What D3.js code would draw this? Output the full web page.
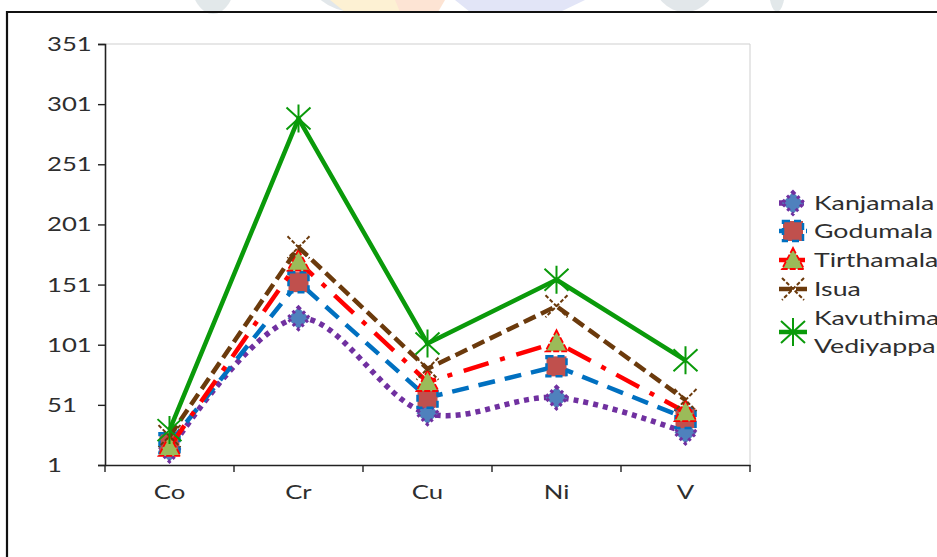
<!DOCTYPE html>
<html>
<head>
<meta charset="utf-8">
<script src="https://cdn.jsdelivr.net/npm/d3@7"></script>
<style>
  html, body { margin: 0; padding: 0; background: #fff; }
  svg { display: block; }
  text { font-family: Lato, "Open Sans", sans-serif; fill: #2e2e2e; }
</style>
</head>
<body>
<script>
// Element concentrations by locality
const categories = ["Co", "Cr", "Cu", "Ni", "V"];
const kanjamala    = [13, 123, 44, 57, 28];
const godumala     = [19, 153, 57, 83, 40];
const tirthamala   = [16, 170, 70, 103, 45];
const isua         = [25, 182, 81, 133, 55];
const kavuthimalai = [30, 289, 102, 155, 88];
const yTicks = [1, 51, 101, 151, 201, 251, 301, 351];
const seriesNames = ["Kanjamala", "Godumala", "Tirthamala", "Isua", ["Kavuthimalai", "Vediyappanmalai"]];

const W = 937, H = 557;
const svg = d3.select("body").append("svg").attr("width", W).attr("height", H);

// faint background emblem above the frame
const mark = svg.append("g").attr("opacity", 0.9);
mark.append("ellipse").attr("cx", 213).attr("cy", -20).attr("rx", 22).attr("ry", 34).attr("fill", "#dfe5e8");
mark.append("ellipse").attr("cx", 355).attr("cy", -28).attr("rx", 48).attr("ry", 40).attr("fill", "#dfe5e8");
mark.append("path").attr("d", "M330,0 L440,0 L425,12 L345,12 Z").attr("fill", "#fdf0cf");
mark.append("path").attr("d", "M395,0 L445,0 L438,12 L400,12 Z").attr("fill", "#fde2d0");
mark.append("path").attr("d", "M455,0 L585,0 L560,12 L470,12 Z").attr("fill", "#dfe3f7");
mark.append("ellipse").attr("cx", 685).attr("cy", -22).attr("rx", 32).attr("ry", 34).attr("fill", "#dfe5e8");
mark.append("ellipse").attr("cx", 777).attr("cy", -20).attr("rx", 9).attr("ry", 32).attr("fill", "#dfe5e8");

// chart frame (top and left edges)
svg.append("path").attr("d", "M7,557 L7,12 L937,12")
  .attr("fill", "none").attr("stroke", "#111").attr("stroke-width", 2.2);

const x = d3.scaleBand().domain(categories).range([105, 750]).padding(0);
const y = d3.scaleLinear().domain([1, 351]).range([465, 44]);
const cx = c => x(c) + x.bandwidth() / 2;

// plot area outline (top / right)
svg.append("path").attr("d", `M105,${y(351)} L750,${y(351)} L750,${y(1)}`)
  .attr("fill", "none").attr("stroke", "#cfcfcf").attr("stroke-width", 1);

// y axis
const yAxis = svg.append("g").attr("transform", "translate(105,0)")
  .call(d3.axisLeft(y).tickValues(yTicks).tickSize(7).tickFormat(""));
yAxis.select(".domain").attr("stroke", "#222").attr("stroke-width", 1.6);
yAxis.selectAll(".tick line").attr("stroke", "#222").attr("stroke-width", 1.4);
svg.append("g").selectAll("text").data(yTicks).join("text")
  .attr("transform", d => `translate(47,${y(d) + 7}) scale(1.32,1)`)
  .attr("font-size", 19.5)
  .text(d => d);

// x axis with ticks on category boundaries
const xAxis = svg.append("g").attr("transform", `translate(0,${y(1)})`)
  .call(d3.axisBottom(x).tickSize(0).tickFormat(""));
xAxis.select(".domain").attr("stroke", "#222").attr("stroke-width", 1.6);
const bounds = categories.map(c => x(c)).concat([x(categories[categories.length - 1]) + x.bandwidth()]);
xAxis.selectAll(".bound").data(bounds).join("line")
  .attr("x1", d => d).attr("x2", d => d).attr("y1", 0).attr("y2", 7)
  .attr("stroke", "#222").attr("stroke-width", 1.4);
svg.append("g").selectAll("text").data(categories).join("text")
  .attr("transform", d => `translate(${cx(d)},499) scale(1.32,1)`)
  .attr("text-anchor", "middle").attr("font-size", 19.5)
  .text(d => d);

// series styling
const series = [
  { name: "Kanjamala", values: kanjamala, color: "#7030a0", width: 5.5, dash: "5,5",
    curve: d3.curveCatmullRom, marker: "diamond" },
  { name: "Godumala", values: godumala, color: "#0070c0", width: 4.5, dash: "17,10",
    curve: d3.curveLinear, marker: "square" },
  { name: "Tirthamala", values: tirthamala, color: "#ff0000", width: 4.5, dash: "26,12,5,12",
    curve: d3.curveLinear, marker: "triangle" },
  { name: "Isua", values: isua, color: "#6b3a0c", width: 4.5, dash: "13,6",
    curve: d3.curveLinear, marker: "cross" },
  { name: "Kavuthimalai", values: kavuthimalai, color: "#0a9a0a", width: 4.5, dash: null,
    curve: d3.curveLinear, marker: "star" }
];

function drawMarker(g, type, s) {
  if (type === "diamond") {
    g.append("path").attr("d", "M0,-11 L11,0 L0,11 L-11,0 Z")
      .attr("fill", "#4f81bd").attr("stroke", "#7030a0").attr("stroke-width", 3.5)
      .attr("stroke-dasharray", "3,3");
  } else if (type === "square") {
    g.append("rect").attr("x", -10).attr("y", -10).attr("width", 20).attr("height", 20)
      .attr("fill", "#c0504d").attr("stroke", "#0070c0").attr("stroke-width", 2.5)
      .attr("stroke-dasharray", "7,4");
  } else if (type === "triangle") {
    g.append("path").attr("d", "M0,-12 L11,9 L-11,9 Z")
      .attr("fill", "#9bbb59").attr("stroke", "#ff0000").attr("stroke-width", 1.8)
      .attr("stroke-dasharray", "6,2");
  } else if (type === "cross") {
    g.append("path").attr("d", "M-11,-11 L11,11 M11,-11 L-11,11")
      .attr("stroke", s.color).attr("stroke-width", 2).attr("stroke-dasharray", "4,2").attr("fill", "none");
  } else if (type === "star") {
    g.append("path").attr("d", "M-12,-11 L12,11 M12,-11 L-12,11 M0,-14 L0,14")
      .attr("stroke", s.color).attr("stroke-width", 2).attr("fill", "none");
  }
}

const plot = svg.append("g");
series.forEach(s => {
  const pts = s.values.map((v, i) => [cx(categories[i]), y(v)]);
  const line = d3.line().curve(s.curve);
  plot.append("path").attr("d", line(pts))
    .attr("fill", "none").attr("stroke", s.color).attr("stroke-width", s.width)
    .attr("stroke-dasharray", s.dash).attr("stroke-linejoin", "round");
  pts.forEach(p => {
    const g = plot.append("g").attr("transform", `translate(${p[0]},${p[1]})`);
    drawMarker(g, s.marker, s);
  });
});

// legend
const legendRows = [203, 231, 260, 289, 332];
const legend = svg.append("g");
series.forEach((s, i) => {
  const ly = legendRows[i];
  const g = legend.append("g").attr("transform", `translate(793,${ly})`);
  g.append("line").attr("x1", -14).attr("x2", 14).attr("y1", 0).attr("y2", 0)
    .attr("stroke", s.color).attr("stroke-width", s.width)
    .attr("stroke-dasharray", s.dash ? (s.marker === "cross" ? "13,4" : s.dash) : null);
  drawMarker(g, s.marker, s);
  const label = seriesNames[i];
  const lines = Array.isArray(label) ? label : [label];
  lines.forEach((t, k) => {
    const ty = Array.isArray(label) ? ly - 14 + k * 28 + 7 : ly + 7;
    legend.append("text")
      .attr("transform", `translate(814,${ty}) scale(1.37,1)`)
      .attr("font-size", 19.5).text(t);
  });
});
</script>
</body>
</html>
